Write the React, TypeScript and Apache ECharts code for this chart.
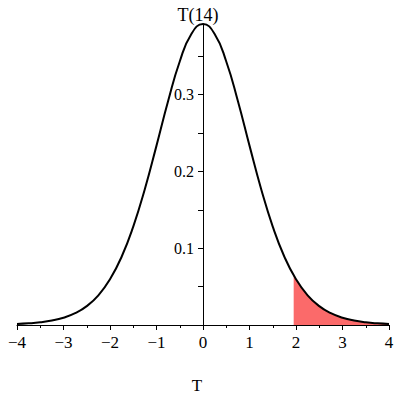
import React, { useEffect, useRef } from "react";
import * as echarts from "echarts";

// t-distribution (14 df) density
const tValues = [-4, -3.75, -3.5, -3.25, -3, -2.75, -2.5, -2.25, -2, -1.75, -1.5, -1.25, -1, -0.75, -0.5, -0.25, 0,
  0.25, 0.5, 0.75, 1, 1.25, 1.5, 1.75, 2, 2.25, 2.5, 2.75, 3, 3.25, 3.5, 3.75, 4];
const density = [0.00129, 0.00213, 0.00351, 0.00578, 0.00947, 0.01536, 0.0246, 0.0387, 0.0595, 0.0889, 0.1282, 0.1772, 0.2336, 0.2917, 0.3432, 0.379, 0.3919,
  0.379, 0.3432, 0.2917, 0.2336, 0.1772, 0.1282, 0.0889, 0.0595, 0.0387, 0.0246, 0.01536, 0.00947, 0.00578, 0.00351, 0.00213, 0.00129];
const shadeStart = 1.95;
const shadeStartValue = 0.0647;
const xTicks = [-4, -3, -2, -1, 0, 1, 2, 3, 4];
const yLabels = [0.1, 0.2, 0.3];
const yTicks = [0.05, 0.1, 0.15, 0.2, 0.25, 0.3, 0.35];
const titleText = "T(14)";
const xName = "T";

export default function App() {
  const ref = useRef<HTMLDivElement>(null);
  useEffect(() => {
    document.body.style.margin = "0";
    const chart = echarts.init(ref.current!, null, { renderer: "svg" });
    const curve = tValues.map((t, i) => [t, density[i]]);
    const shade = [[shadeStart, shadeStartValue]].concat(
      tValues.map((t, i) => [t, density[i]]).filter((p) => p[0] > shadeStart)
    );
    const font = "Liberation Serif";
    chart.setOption({
      animation: false,
      backgroundColor: "#ffffff",
      grid: { left: 17, right: 11, top: 24, bottom: 75, outerBoundsMode: "none", containLabel: false },
      xAxis: {
        type: "value",
        min: -4,
        max: 4,
        interval: 1,
        axisLine: { onZero: true, lineStyle: { color: "#000", width: 1 } },
        axisTick: { show: true, length: 5, lineStyle: { color: "#000" }, customValues: xTicks },
        minorTick: { show: true, splitNumber: 2, length: 3, lineStyle: { color: "#000" } },
        axisLabel: {
          color: "#000",
          fontSize: 17,
          fontFamily: font,
          margin: 9,
          customValues: xTicks,
          formatter: (v: number) => (v < 0 ? "\u2212" + Math.abs(v) : String(v)),
        },
        splitLine: { show: false },
      },
      yAxis: {
        type: "value",
        min: 0,
        max: 0.392,
        offset: -186,
        axisLine: { show: true, onZero: false, lineStyle: { color: "#000", width: 1 } },
        axisTick: { show: true, length: 5, lineStyle: { color: "#000" }, customValues: yTicks },
        axisLabel: {
          color: "#000",
          fontSize: 16,
          fontFamily: font,
          margin: 9,
          customValues: yLabels,
          formatter: (v: number) => v.toFixed(1),
        },
        splitLine: { show: false },
      },
      graphic: [
        {
          type: "text",
          x: 198,
          y: 15,
          style: { text: titleText, fontSize: 18, fontFamily: font, fill: "#000", textAlign: "center", textVerticalAlign: "middle" },
        },
        {
          type: "text",
          x: 197,
          y: 385,
          style: { text: xName, fontSize: 17, fontFamily: font, fill: "#000", textAlign: "center", textVerticalAlign: "middle" },
        },
      ],
      series: [
        {
          type: "line",
          data: shade,
          smooth: true,
          symbol: "none",
          lineStyle: { width: 0 },
          areaStyle: { color: "#fb6a6a", opacity: 1 },
          z: 1,
        },
        {
          type: "line",
          data: curve,
          smooth: true,
          symbol: "none",
          lineStyle: { color: "#000", width: 2 },
          z: 2,
        },
      ],
    });
    return () => chart.dispose();
  }, []);
  return <div ref={ref} style={{ width: 400, height: 400 }} />;
}
